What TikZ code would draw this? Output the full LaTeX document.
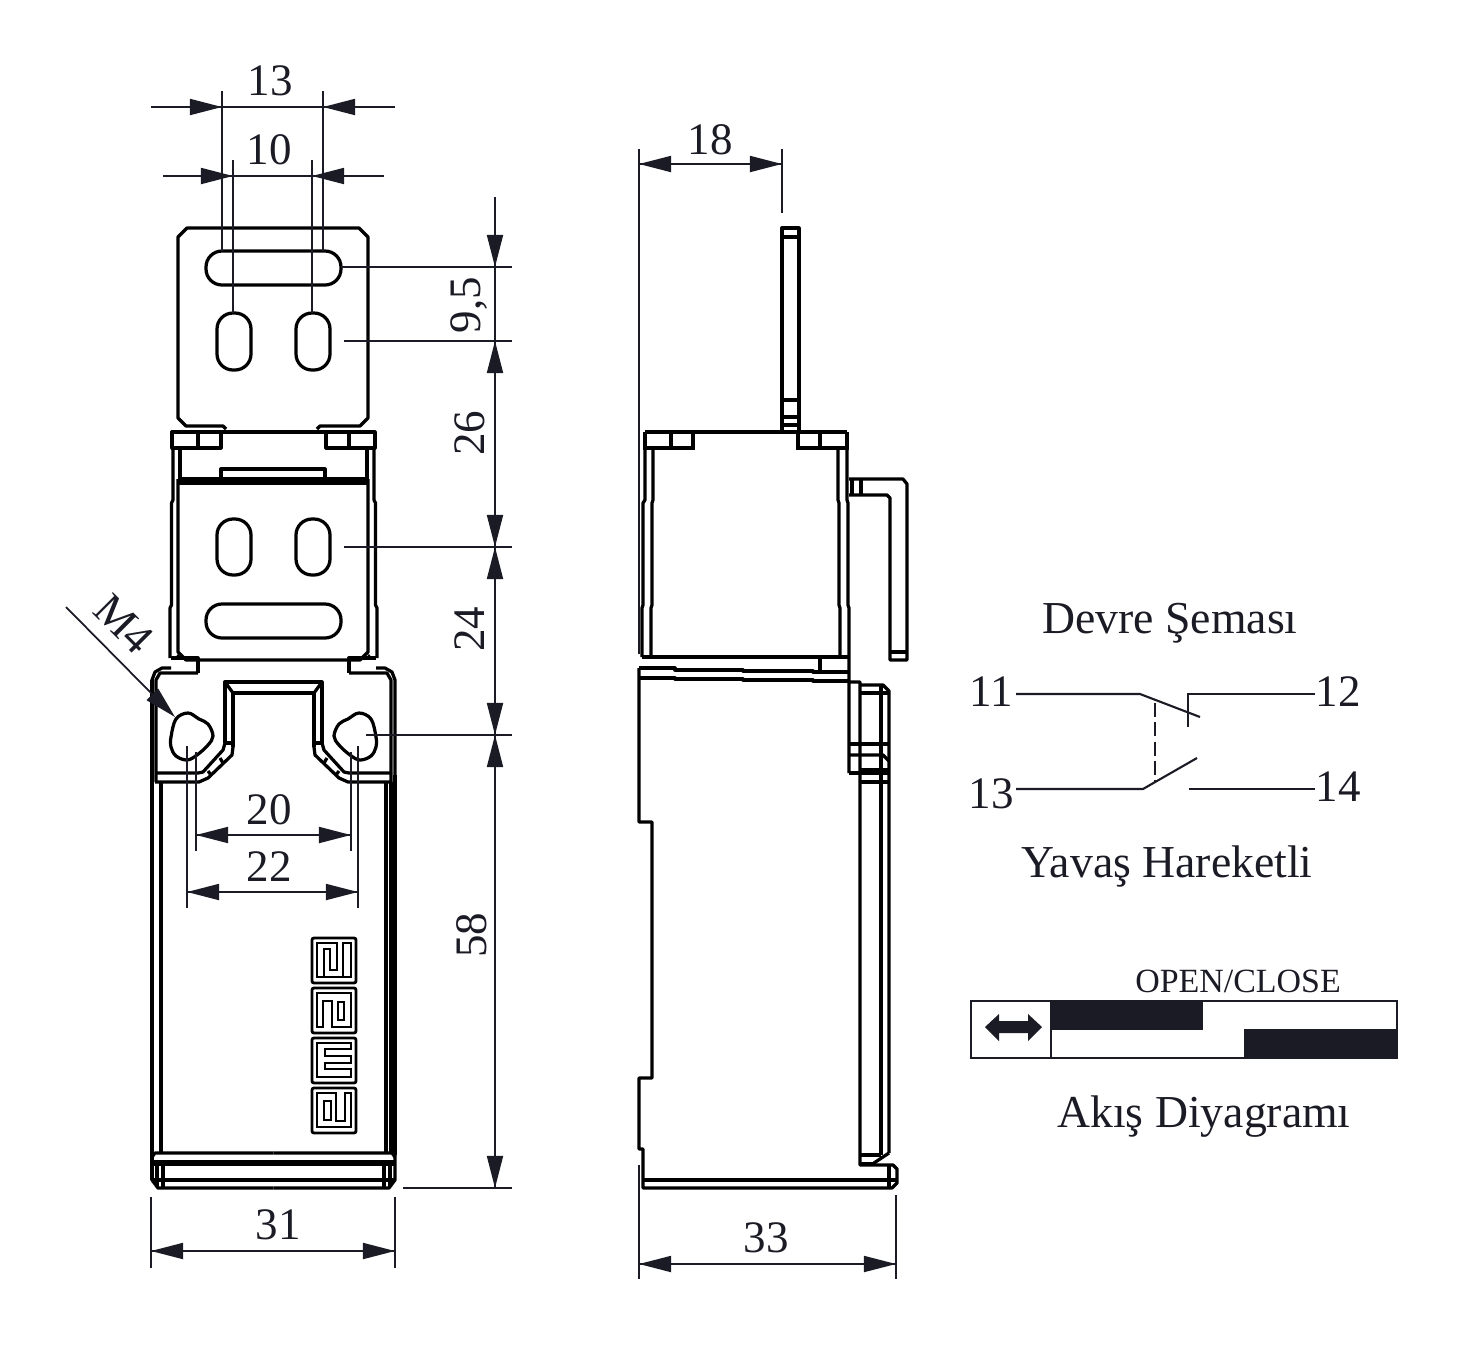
\documentclass[tikz,border=0pt]{standalone}
\usepackage{fontspec}
\setmainfont{Liberation Serif}
\usetikzlibrary{arrows.meta}
\definecolor{inkdark}{HTML}{1B1B26}
\tikzset{
	part/.style={line width=0.92pt, black, line join=round},
	wall/.style={line width=1.35pt, black},
	dimline/.style={line width=0.5pt, inkdark},
	dimtip/.style={line width=0.5pt, inkdark, -{Triangle[length=3.2mm,width=1.6mm]}},
	wire/.style={line width=0.6pt, inkdark},
	dimtext/.style={font=\fontsize{12.8}{14}\selectfont, text=inkdark, inner sep=0pt},
	titletext/.style={font=\fontsize{13}{14}\selectfont, text=inkdark, inner sep=0pt},
	smalltext/.style={font=\fontsize{9.65}{11}\selectfont, text=inkdark, inner sep=0pt},
	logoline/.style={line width=0.8pt, black},
}
% left half of the front view, drawn a second time mirrored
\newcommand{\fronthalf}{
	\draw[part] (172,448) rectangle (221,432);
	\draw[wall] (172,432) -- (172,448);
	\draw[part] (198,432) -- (198,448);
	\draw[wall] (172,448) -- (221,448);
	\draw[part] (173,448) -- (173,500) -- (171.5,503) -- (171.5,605) -- (170,608) -- (170,658);
	\draw[part] (180,448) -- (180,479);
	\draw[part] (171,658) -- (198,658) -- (198,673);
	\fill (174,659) -- (178,654) -- (182,659) -- cycle;
	% base
	\draw[part] (171,668) -- (162,668) -- (155,672) -- (152,680) -- (152,1180) -- (158,1188) -- (273.5,1188);
	\draw[part] (198,673) -- (160,673) -- (156,680) -- (156,782);
	\draw[part] (161,782) -- (161,1153);
	\draw[part] (225,743) -- (225,682) -- (273.5,682);
	\draw[part] (233,747) -- (233,693) -- (273.5,693);
	\draw[part] (225,682) -- (233,693);
	\draw[part] (225,743) -- (233,743);
	\draw[part] (225,743) -- (223,750) -- (203,772) -- (198,773) -- (155,773);
	\draw[part] (233,747) -- (232,755) -- (208,778) -- (199,782) -- (155,782);
	\draw[part] (220,758) -- (223,763);
	\draw[part] (208,771) -- (211,775);
	\draw[part] plot[smooth cycle, tension=0.6] coordinates {(171,737) (176,719) (188,713) (199,719) (208,724) (213,736) (208,745) (197,755) (187,760) (176,756) (171,747)};
	% foot
	\draw[part] (152,1157) -- (155,1153) -- (273.5,1153);
	\draw[line width=1.5pt, black] (152,1163) -- (273.5,1163);
	\draw[part] (153,1180) -- (273.5,1180);
	\draw[part] (157,1163) -- (157,1187);
	\draw[part] (163,1163) -- (163,1188);
}
\begin{document}
\begin{tikzpicture}[x=0.01cm,y=-0.01cm]
	\useasboundingbox (0,0) rectangle (1463,1345);

	% front view
	\draw[part] (226,429) -- (223,426) -- (186,426) -- (178,418) -- (178,237) -- (187,228) -- (359,228) -- (368,237) -- (368,418) -- (360,426) -- (320,426) -- (317,429);
	\draw[part, rounded corners=1.6mm] (206,251) rectangle (341,285);
	\draw[part, rounded corners=1.6mm] (217,313) rectangle (251,370);
	\draw[part, rounded corners=1.6mm] (296,313) rectangle (330,370);
	\draw[wall] (172,432) -- (374,432);
	\draw[part] (221,479) -- (221,469) -- (325,469) -- (325,479);
	\draw[part] (178,479) -- (368,479);
	\draw[part] (178,483) -- (368,483);
	\draw[part] (178,479) -- (178,652) -- (186,660) -- (360,660) -- (368,652) -- (368,479);
	\draw[part, rounded corners=1.6mm] (217,519) rectangle (251,575);
	\draw[part, rounded corners=1.6mm] (296,519) rectangle (330,575);
	\draw[part, rounded corners=1.6mm] (206,604) rectangle (341,638);
	\fronthalf
	\begin{scope}[shift={(547,0)},xscale=-1]
		\fronthalf
	\end{scope}
	\draw[wall] (152,680) -- (152,1180);
	\draw[wall] (395,775) -- (395,1155);
	\draw[part] (391,782) -- (391,1153);

	% logo
	\begin{scope}[shift={(312,938)}]
		\draw[logoline, rounded corners=0.2mm] (0,0) rectangle (44,45);
		\draw[logoline] (5,5) -- (25,5) -- (25,32) -- (18,32) -- (18,11) -- (12,11) -- (12,39) -- (5,39) -- cycle;
		\draw[logoline] (25,39) -- (31,39) -- (31,5) -- (39,5) -- (39,39) -- (31,39);
		\draw[logoline] (12,39) -- (25,39);
	\end{scope}
	\begin{scope}[shift={(312,988)}]
		\draw[logoline, rounded corners=0.2mm] (0,0) rectangle (44,45);
		\draw[logoline] (5,5) -- (39,5) -- (39,39) -- (20,39) -- (20,13) -- (11,13) -- (11,39) -- (5,39) -- cycle;
		\draw[logoline] (26,14) rectangle (32,32);
	\end{scope}
	\begin{scope}[shift={(312,1038)}]
		\draw[logoline, rounded corners=0.2mm] (0,0) rectangle (44,45);
		\draw[logoline] (5,5) -- (39,5) -- (39,11) -- (13,11) -- (13,18) -- (39,18) -- (39,25) -- (13,25) -- (13,31) -- (39,31) -- (39,39) -- (5,39) -- cycle;
	\end{scope}
	\begin{scope}[shift={(312,1088)}]
		\draw[logoline, rounded corners=0.2mm] (0,0) rectangle (44,45);
		\draw[logoline] (5,5) -- (24,5) -- (24,33) -- (33,33) -- (33,5) -- (39,5) -- (39,39) -- (5,39) -- cycle;
		\draw[logoline] (12,13) rectangle (19,32);
	\end{scope}

	% side view
	\draw[part] (782,432) -- (782,228) -- (799,228) -- (799,432);
	\foreach \y in {237,400,417,425}
		\draw[part] (782,\y) -- (799,\y);
	\draw[wall] (645,432) -- (847,432);
	\draw[wall] (645,432) -- (645,448) -- (693,448) -- (693,432);
	\draw[wall] (798,432) -- (798,448) -- (847,448) -- (847,432);
	\draw[part] (671,432) -- (671,448);
	\draw[part] (820,432) -- (820,448);
	\draw[part] (645,448) -- (645,500) -- (643,503) -- (643,605) -- (642,608) -- (642,657);
	\draw[part] (653,448) -- (653,500) -- (652,503) -- (652,605) -- (651,608) -- (651,657);
	\draw[part] (838,448) -- (838,500) -- (839,503) -- (839,605) -- (840,608) -- (840,657);
	\draw[part] (847,448) -- (847,500) -- (848,503) -- (848,605) -- (849,608) -- (849,773);
	\draw[part] (642,657) -- (849,657);
	\draw[part] (820,657) -- (820,672);
	\draw[part] (639,668) -- (675,668) -- (675,670) -- (743,670) -- (743,671) -- (813,671) -- (813,672) -- (849,672);
	\draw[part] (639,678) -- (675,678) -- (675,679) -- (743,679) -- (743,680) -- (813,680) -- (813,681) -- (849,681);
	\draw[part] (639,668) -- (639,822) -- (652,822) -- (652,1078) -- (639,1078) -- (639,1149) -- (643,1149) -- (643,1188) -- (892,1188) -- (897,1183) -- (897,1169) -- (893,1165) -- (860,1165) -- (860,682) -- (849,682);
	\draw[part] (643,1180) -- (897,1180);
	\draw[part] (889,1165) -- (889,1188);
	\draw[line width=1.3pt] (860,1164) -- (875,1164);
	\draw[part] (860,1155) -- (881,1155);
	\draw[part] (874,1163) -- (889,1153);
	\draw[part] (860,685) -- (883,685) -- (889,691) -- (889,1153);
	\draw[part] (881,685) -- (881,1155);
	\draw[part] (860,693) -- (889,693);
	\draw[part] (849,744) -- (889,744);
	\draw[part] (849,755) -- (883,755) -- (889,761);
	\draw[part] (860,770) -- (889,770);
	\draw[part] (849,773) -- (889,773);
	\draw[part] (860,782) -- (889,782);
	% hook
	\draw[part] (849,479) -- (903,479) -- (907,484) -- (907,660) -- (890,660) -- (890,498) -- (887,495) -- (849,495);
	\draw[part] (890,652) -- (907,652);
	\draw[part] (852,479) -- (852,495);
	\draw[part] (861,479) -- (861,495);

	% dimensions, front view
	\draw[dimline] (222,91) -- (222,251);
	\draw[dimline] (323,91) -- (323,251);
	\draw[dimline] (233,160) -- (233,313);
	\draw[dimline] (312,160) -- (312,313);
	\draw[dimline] (151,107) -- (395,107);
	\draw[dimline] (163,176) -- (384,176);
	\draw[dimtip] (190,107) -- (222,107);
	\draw[dimtip] (355,107) -- (323,107);
	\draw[dimtip] (201,176) -- (233,176);
	\draw[dimtip] (344,176) -- (312,176);
	\draw[dimline] (495,197) -- (495,1188);
	\foreach \a/\b in {235/267,373/341,515/547,579/547,703/735,767/735,1156/1188}
		\draw[dimtip] (495,\a) -- (495,\b);
	\draw[dimline] (341,267) -- (512,267);
	\draw[dimline] (344,341) -- (512,341);
	\draw[dimline] (344,547) -- (512,547);
	\draw[dimline] (366,735) -- (512,735);
	\draw[dimline] (403,1188) -- (512,1188);
	\draw[dimline] (196,752) -- (196,851);
	\draw[dimline] (351,752) -- (351,851);
	\draw[dimline] (187,746) -- (187,908);
	\draw[dimline] (358,746) -- (358,908);
	\draw[dimline] (196,835) -- (351,835);
	\draw[dimline] (187,892) -- (358,892);
	\draw[dimtip] (228,835) -- (196,835);
	\draw[dimtip] (319,835) -- (351,835);
	\draw[dimtip] (219,892) -- (187,892);
	\draw[dimtip] (326,892) -- (358,892);
	\draw[dimline] (151,1197) -- (151,1268);
	\draw[dimline] (395,1197) -- (395,1268);
	\draw[dimline] (151,1251) -- (395,1251);
	\draw[dimtip] (183,1251) -- (151,1251);
	\draw[dimtip] (363,1251) -- (395,1251);
	\draw[dimline] (66,607) -- (152,694);
	\draw[dimtip] (152,694) -- (175,717);

	% dimensions, side view
	\draw[dimline] (639,149) -- (639,654);
	\draw[dimline] (782,149) -- (782,213);
	\draw[dimline] (639,164) -- (782,164);
	\draw[dimtip] (671,164) -- (639,164);
	\draw[dimtip] (750,164) -- (782,164);
	\draw[dimline] (639,1165) -- (639,1279);
	\draw[dimline] (896,1195) -- (896,1279);
	\draw[dimline] (639,1264) -- (896,1264);
	\draw[dimtip] (671,1264) -- (639,1264);
	\draw[dimtip] (864,1264) -- (896,1264);

	\node[dimtext] (d13) at (270,81) {13};
	\node[dimtext] (d10) at (269,150) {10};
	\node[dimtext, rotate=90] (d95) at (469,305) {9,5};
	\node[dimtext, rotate=90] (d26) at (470,433) {26};
	\node[dimtext, rotate=90] (d24) at (470,629) {24};
	\node[dimtext, rotate=90] (d58) at (472,935) {58};
	\node[dimtext] (d20) at (269,810) {20};
	\node[dimtext] (d22) at (269,867) {22};
	\node[dimtext] (d31) at (278,1225) {31};
	\node[dimtext, rotate=-45] (dm4) at (124,624) {M4};
	\node[dimtext] (d18) at (710,140) {18};
	\node[dimtext] (d33) at (766,1238) {33};

	% circuit
	\node[titletext] (devre) at (1170,623) {Devre Şeması};
	\node[dimtext] (t11) at (991,692) {11};
	\node[dimtext] (t12) at (1338,692) {12};
	\node[dimtext] (t13) at (991,794) {13};
	\node[dimtext] (t14) at (1338,787) {14};
	\node[titletext] (yavas) at (1167,866) {Yavaş Hareketli};
	\coordinate (w11) at (1016,694);
	\coordinate (k11) at (1140,694);
	\coordinate (e11) at (1200,717);
	\coordinate (w12) at (1315,694);
	\coordinate (k12) at (1188,694);
	\coordinate (e12) at (1188,727);
	\coordinate (w13) at (1016,789);
	\coordinate (k13) at (1143,789);
	\coordinate (e13) at (1197,758);
	\coordinate (w14) at (1315,789);
	\coordinate (k14) at (1189,789);
	\coordinate (ptop) at (1155,703);
	\coordinate (pbot) at (1155,782);
	\draw[wire] (w11) -- (k11) -- (e11);
	\draw[wire] (w12) -- (k12) -- (e12);
	\draw[wire] (w13) -- (k13) -- (e13);
	\draw[wire] (w14) -- (k14);
	\draw[wire, dash pattern=on 4pt off 1.5pt] (ptop) -- (pbot);

	% travel diagram
	\node[smalltext] (open) at (1238,981) {OPEN/CLOSE};
	\draw[wire, line width=0.7pt] (971,1001) rectangle (1397,1058);
	\draw[wire, line width=0.7pt] (1051,1001) -- (1051,1058);
	\fill[inkdark] (1051,1001) rectangle (1203,1030);
	\fill[inkdark] (1244,1029) rectangle (1397,1058);
	\fill[inkdark] (985,1027) -- (999,1014) -- (999,1021) -- (1028,1021) -- (1028,1014) -- (1042,1027) -- (1028,1041) -- (1028,1033) -- (999,1033) -- (999,1041) -- cycle;
	\node[titletext] (akis) at (1204,1117) {Akış Diyagramı};
\end{tikzpicture}
\end{document}
